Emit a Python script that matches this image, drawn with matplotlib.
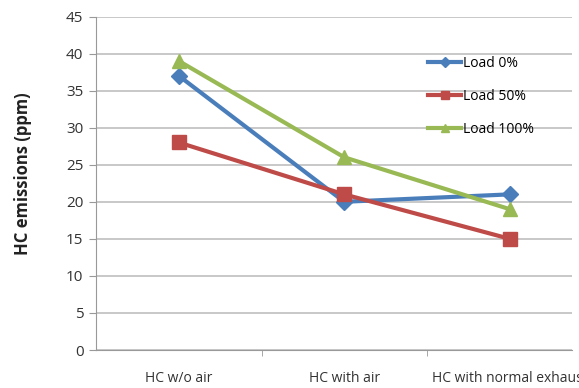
import matplotlib
matplotlib.use("Agg")
import matplotlib.pyplot as plt
import numpy as np

categories = ["HC w/o air", "HC with air", "HC with normal exhaust"]
series_names = ["Load 0%", "Load 50%", "Load 100%"]
load0 = [37, 20, 21]
load50 = [28, 21, 15]
load100 = [39, 26, 19]
yticks = [0, 5, 10, 15, 20, 25, 30, 35, 40, 45]

plt.rcParams['font.family'] = ['Open Sans', 'DejaVu Sans']

W, H = 579, 388
fig = plt.figure(figsize=(W / 100, H / 100), dpi=100)
left, right, top, bottom = 96, 572, 16.5, 350
ax = fig.add_axes([left / W, 1 - bottom / H, (right - left) / W, (bottom - top) / H])

x = np.arange(len(categories))
styles = [
    (load0, "#4A7EBB", "D", 8),
    (load50, "#BE4B48", "s", 10),
    (load100, "#98B954", "^", 10),
]
for (vals, col, mk, ms), name in zip(styles, series_names):
    ax.plot(x, vals, color=col, lw=3, marker=mk, ms=ms, label=name, zorder=3)

px_per_cat = 165.5
ax.set_xlim(-0.5, -0.5 + (right - left) / px_per_cat)
ax.set_ylim(0, 45)
ax.set_yticks(yticks)
ax.set_xticks(x)
ax.set_xticklabels(categories, fontsize=10, color="#333333")
ax.set_xticks([0.5, 1.5], minor=True)
ax.tick_params(axis='x', which='major', length=0, pad=15)
ax.tick_params(axis='x', which='minor', length=4, color="#999999")
ax.tick_params(axis='y', length=5, color="#999999", labelsize=11, labelcolor="#333333", pad=4)
ax.yaxis.grid(True, color="#BFBFBF", lw=1.2)
ax.set_axisbelow(True)
for s in ["top", "right"]:
    ax.spines[s].set_visible(False)
for s in ["left", "bottom"]:
    ax.spines[s].set_color("#999999")
ax.set_ylabel("HC emissions (ppm)", fontsize=12, fontweight="bold", color="#222222")
ax.yaxis.set_label_coords((32 - left) / (right - left), 1 - (173.5 - top) / (bottom - top))

leg = ax.legend(loc="upper left", bbox_to_anchor=((428 - left) / (right - left), 1 - (56 - top) / (bottom - top)),
                frameon=False, fontsize=10, handlelength=2.4, labelspacing=1.3, handletextpad=0.1,
                borderaxespad=0, markerscale=0.6, borderpad=0)

fig.savefig("out.png", dpi=100)
